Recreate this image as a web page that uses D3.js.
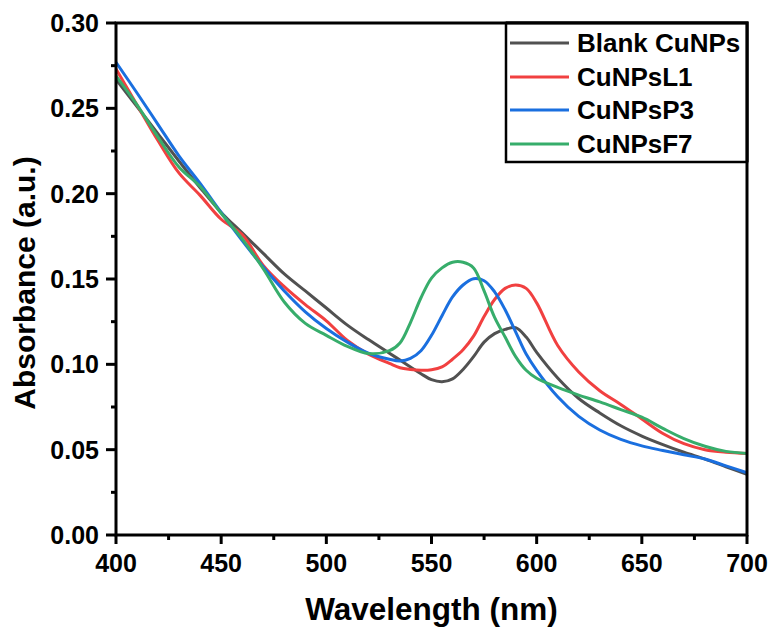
<!DOCTYPE html>
<html>
<head>
<meta charset="utf-8">
<script src="https://cdn.jsdelivr.net/npm/d3@7"></script>
<style>
  body { margin: 0; background: #fff; }
  text { font-family: "Liberation Sans", Arial, sans-serif; font-weight: bold; }
</style>
</head>
<body>
<svg id="chart" width="772" height="629"></svg>
<script>
// wavelength grid (nm)
const wavelength = [400,410,420,430,440,450,460,470,480,490,500,510,520,530,535,540,545,550,555,560,565,570,575,580,585,590,595,600,610,620,630,640,650,660,670,680,690,700];

const blank = [.267,.251,.235,.219,.2035,.189,.177,.165,.153,.143,.133,.123,.1145,.1065,.1025,.0985,.0945,.091,.0898,.0915,.097,.1045,.113,.118,.1205,.1215,.116,.107,.092,.080,.0715,.064,.058,.053,.0485,.0445,.040,.0355];
const l1 = [.273,.252,.231,.212,.199,.185,.176,.158,.1455,.135,.1255,.114,.106,.1005,.098,.097,.0965,.0968,.0985,.103,.1085,.1165,.128,.138,.1445,.1465,.1445,.136,.111,.0955,.0845,.0765,.068,.0595,.0535,.050,.0485,.0478];
const p3 = [.277,.259,.2405,.222,.206,.189,.1725,.157,.143,.1308,.121,.113,.1065,.103,.102,.1035,.108,.117,.1285,.1395,.1465,.1502,.149,.1425,.132,.119,.106,.0965,.081,.0695,.0615,.056,.0522,.0495,.047,.0445,.0405,.0365];
const f7 = [.269,.252,.233,.2155,.2042,.1885,.1735,.156,.1365,.124,.117,.1105,.1063,.108,.1125,.1245,.139,.1505,.1565,.1598,.1598,.1565,.143,.1275,.116,.1045,.0965,.0918,.0865,.082,.078,.0735,.069,.0625,.0565,.052,.049,.0478];

const seriesNames = ["Blank CuNPs","CuNPsL1","CuNPsP3","CuNPsF7"];
const seriesValues = [blank, l1, p3, f7];
const colors = ["#515151","#F14040","#1A6FDF","#37AD6B"];

const xTicks = [400,450,500,550,600,650,700];
const yTicks = [0,0.05,0.10,0.15,0.20,0.25,0.30];

const svg = d3.select("#chart");
const plotL = 116, plotR = 747, plotT = 23, plotB = 535;

const x = d3.scaleLinear().domain([400,700]).range([plotL,plotR]);
const y = d3.scaleLinear().domain([0,0.30]).range([plotB,plotT]);

// minor ticks
const xMinor = d3.range(425,700,50);
const yMinor = d3.range(0.025,0.30,0.05);

const axisG = svg.append("g");

// curves
const line = d3.line()
  .x((d,i) => x(wavelength[i]))
  .y(d => y(d))
  .curve(d3.curveCatmullRom.alpha(0.5));

seriesValues.forEach((vals,i) => {
  svg.append("path")
    .attr("d", line(vals))
    .attr("fill","none")
    .attr("stroke",colors[i])
    .attr("stroke-width",3)
    .attr("stroke-linejoin","round");
});

// frame
svg.append("rect")
  .attr("x",plotL).attr("y",plotT)
  .attr("width",plotR-plotL).attr("height",plotB-plotT)
  .attr("fill","none").attr("stroke","#000").attr("stroke-width",3);

// y ticks
axisG.selectAll(".ymaj").data(yTicks).enter().append("line")
  .attr("x1",plotL-10).attr("x2",plotL)
  .attr("y1",d=>y(d)).attr("y2",d=>y(d))
  .attr("stroke","#000").attr("stroke-width",3);
axisG.selectAll(".ymin").data(yMinor).enter().append("line")
  .attr("x1",plotL-5).attr("x2",plotL)
  .attr("y1",d=>y(d)).attr("y2",d=>y(d))
  .attr("stroke","#000").attr("stroke-width",3);
svg.selectAll(".ylab").data(yTicks).enter().append("text")
  .attr("x",plotL-17).attr("y",d=>y(d))
  .attr("dy","0.36em")
  .attr("text-anchor","end")
  .style("font-size","25px")
  .text(d=>d3.format(".2f")(d));

// x ticks
axisG.selectAll(".xmaj").data(xTicks).enter().append("line")
  .attr("x1",d=>x(d)).attr("x2",d=>x(d))
  .attr("y1",plotB).attr("y2",plotB+9)
  .attr("stroke","#000").attr("stroke-width",3);
axisG.selectAll(".xmin").data(xMinor).enter().append("line")
  .attr("x1",d=>x(d)).attr("x2",d=>x(d))
  .attr("y1",plotB).attr("y2",plotB+5)
  .attr("stroke","#000").attr("stroke-width",3);
svg.selectAll(".xlab").data(xTicks).enter().append("text")
  .attr("x",d=>x(d)).attr("y",572)
  .attr("text-anchor","middle")
  .style("font-size","25px")
  .text(d=>d);

// axis titles
svg.append("text")
  .attr("x",(plotL+plotR)/2).attr("y",620)
  .attr("text-anchor","middle")
  .style("font-size","31.5px")
  .text("Wavelength (nm)");
svg.append("text")
  .attr("transform",`translate(35,${(plotT+plotB)/2+4}) rotate(-90)`)
  .attr("text-anchor","middle")
  .style("font-size","30px")
  .text("Absorbance (a.u.)");

// legend
const lg = svg.append("g");
lg.append("rect")
  .attr("x",506).attr("y",plotT).attr("width",plotR-506).attr("height",162-plotT)
  .attr("fill","#fff").attr("stroke","#000").attr("stroke-width",2.5);
const rowY = [43,77,110,144];
seriesNames.forEach((name,i) => {
  lg.append("line")
    .attr("x1",510).attr("x2",569)
    .attr("y1",rowY[i]).attr("y2",rowY[i])
    .attr("stroke",colors[i]).attr("stroke-width",3);
  lg.append("text")
    .attr("x",577).attr("y",rowY[i])
    .attr("dy","0.36em")
    .style("font-size","26px")
    .text(name);
});
// redraw frame over legend edge
svg.append("path")
  .attr("d",`M${506},${plotT}H${plotR}V${162}`)
  .attr("fill","none").attr("stroke","#000").attr("stroke-width",3);
</script>
</body>
</html>
